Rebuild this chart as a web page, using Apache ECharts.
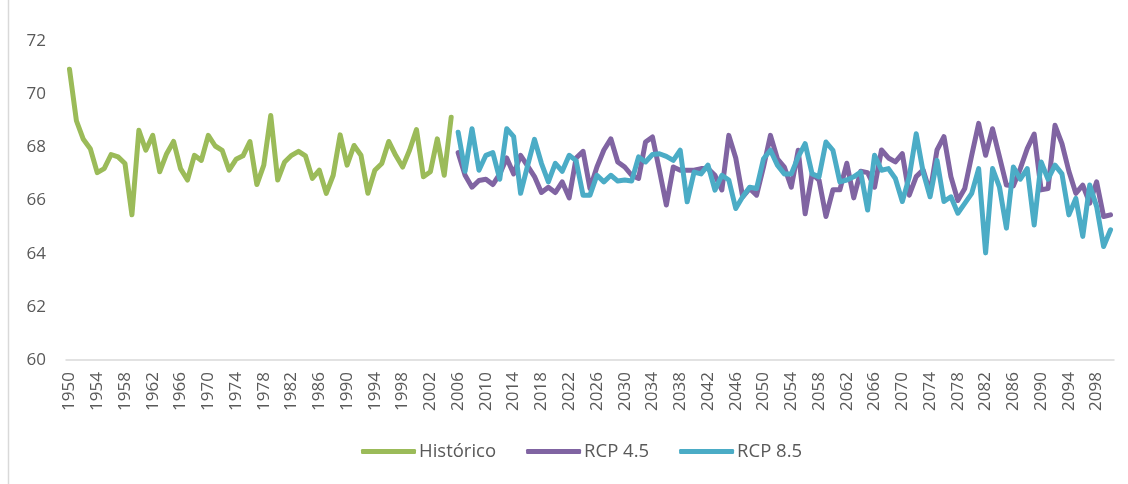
<!DOCTYPE html>
<html>
<head>
<meta charset="utf-8">
<script src="https://cdn.jsdelivr.net/npm/echarts@6/dist/echarts.min.js"></script>
<style>
  html, body { margin: 0; padding: 0; background: #fff; }
  #chart { width: 1128px; height: 484px; }
</style>
</head>
<body>
<div id="chart"></div>
<script>
const firstYear = 1950;
const lastYear = 2100;

const historico = [
  70.94, 69.0, 68.3, 67.95, 67.05, 67.2, 67.73, 67.64, 67.39, 65.46,
  68.64, 67.89, 68.45, 67.08, 67.76, 68.22, 67.2, 66.77, 67.7, 67.51,
  68.45, 68.05, 67.89, 67.14, 67.55, 67.68, 68.22, 66.6, 67.33, 69.2,
  66.77, 67.45, 67.7, 67.85, 67.68, 66.83, 67.14, 66.27, 66.95, 68.47,
  67.33, 68.07, 67.7, 66.27, 67.14, 67.39, 68.22, 67.7, 67.26, 67.89,
  68.67, 66.89, 67.08, 68.32, 66.95, 69.13
];

// 2006 - 2100
const rcp45 = [
  67.8, 66.95, 66.5, 66.75, 66.8, 66.6, 67.0, 67.6, 67.0, 67.7,
  67.3, 66.9, 66.3, 66.5, 66.3, 66.7, 66.1, 67.6, 67.85, 66.45,
  67.26, 67.9, 68.32, 67.45, 67.26, 66.95, 66.83, 68.2, 68.39, 67.14,
  65.83, 67.26, 67.14, 67.14, 67.14, 67.2, 67.2, 66.95, 66.4, 68.45,
  67.6, 66.14, 66.45, 66.2, 67.26, 68.45, 67.57, 67.26, 66.5, 67.89,
  65.5, 67.0, 66.77, 65.4, 66.4, 66.4, 67.4, 66.1, 67.1, 67.05,
  66.5, 67.9, 67.6, 67.45, 67.76, 66.2, 66.9, 67.15, 66.3, 67.9,
  68.4, 66.9, 66.0, 66.45, 67.7, 68.9, 67.7, 68.7, 67.64, 66.58,
  66.55, 67.2, 67.95, 68.5, 66.4, 66.45, 68.83, 68.14, 67.1, 66.27,
  66.58, 65.9, 66.7, 65.4, 65.46
];

// 2006 - 2100
const rcp85 = [
  68.57, 67.1, 68.7, 67.14, 67.7, 67.8, 66.8, 68.7, 68.4, 66.27,
  67.3, 68.3, 67.4, 66.7, 67.4, 67.1, 67.7, 67.5, 66.2, 66.2,
  66.95, 66.7, 66.95, 66.73, 66.77, 66.73, 67.64, 67.45, 67.73, 67.76,
  67.66, 67.51, 67.89, 65.95, 67.07, 67.0, 67.33, 66.39, 66.95, 66.77,
  65.7, 66.14, 66.5, 66.45, 67.57, 67.89, 67.33, 67.0, 67.0, 67.64,
  68.14, 67.0, 66.89, 68.2, 67.89, 66.7, 66.77, 66.89, 67.07, 65.64,
  67.7, 67.14, 67.2, 66.83, 65.96, 66.89, 68.51, 67.07, 66.14, 67.51,
  65.96, 66.14, 65.52, 65.89, 66.27, 67.2, 64.03, 67.2, 66.5, 64.96,
  67.26, 66.8, 67.2, 65.08, 67.45, 66.8, 67.33, 67.0, 65.46, 66.08,
  64.65, 66.58, 65.77, 64.27, 64.9
];

const years = [];
for (let y = firstYear; y <= lastYear; y++) years.push(String(y));

const pad = (n) => new Array(n).fill("-");
const histData = historico.concat(pad(years.length - historico.length));
const rcp45Data = pad(years.length - rcp45.length).concat(rcp45);
const rcp85Data = pad(years.length - rcp85.length).concat(rcp85);

const font = "'Open Sans', sans-serif";
const textColor = "#595959";

const chart = echarts.init(document.getElementById("chart"));

const lineSeries = (name, data, color) => ({
  name: name,
  type: "line",
  data: data,
  symbol: "none",
  connectNulls: false,
  lineStyle: { width: 5, color: color, cap: "round", join: "round" },
  itemStyle: { color: color },
});

chart.setOption({
  animation: false,
  grid: { left: 66, right: 14, top: 41, bottom: 124 },
  legend: {
    data: ["Histórico", "RCP 4.5", "RCP 8.5"],
    bottom: 18,
    left: 356,
    icon: "roundRect",
    itemWidth: 55,
    itemHeight: 5,
    itemGap: 30,
    textStyle: { fontFamily: font, fontSize: 18.5, color: textColor, padding: [0, 0, 0, -2] },
  },
  graphic: [
    {
      type: "line",
      shape: { x1: 8.5, y1: 0, x2: 8.5, y2: 484 },
      style: { stroke: "#d9d9d9", lineWidth: 1.5 },
    },
  ],
  xAxis: {
    type: "category",
    data: years,
    boundaryGap: true,
    axisLine: { lineStyle: { color: "#d9d9d9", width: 1.5 } },
    axisTick: { interval: 0, length: 4, lineStyle: { color: "#d9d9d9" } },
    axisLabel: {
      interval: 3,
      rotate: 90,
      margin: 12,
      fontFamily: font,
      fontSize: 17,
      color: textColor,
    },
  },
  yAxis: {
    type: "value",
    min: 60,
    max: 72,
    interval: 2,
    axisLine: { show: false },
    axisTick: { show: false },
    splitLine: { show: false },
    axisLabel: { fontFamily: font, fontSize: 17, color: textColor, margin: 20 },
  },
  series: [
    lineSeries("Histórico", histData, "#9BBB59"),
    lineSeries("RCP 4.5", rcp45Data, "#8064A2"),
    lineSeries("RCP 8.5", rcp85Data, "#4BACC6"),
  ],
});
</script>
</body>
</html>
